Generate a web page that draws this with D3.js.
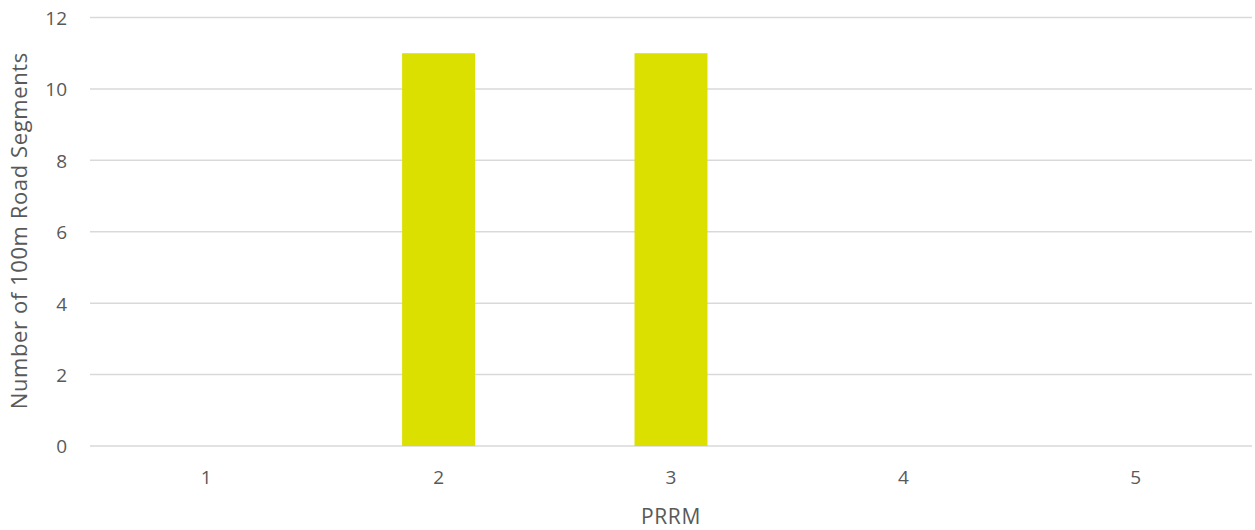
<!DOCTYPE html>
<html>
<head>
<meta charset="utf-8">
<script src="https://cdn.jsdelivr.net/npm/d3@7"></script>
<style>
  html, body { margin: 0; padding: 0; background: #fff; }
  svg text { font-family: "Open Sans", "Noto Sans", sans-serif; fill: #595959; }
</style>
</head>
<body>
<svg id="chart" width="1255" height="530"></svg>
<script>
// PRRM classes and the count of 100 m road segments in each
const categories = ["1", "2", "3", "4", "5"];
const counts = [0, 11, 11, 0, 0];
const yTicks = [0, 2, 4, 6, 8, 10, 12];
const xTitle = "PRRM";
const yTitle = "Number of 100m Road Segments";

const svg = d3.select("#chart");
const margin = { left: 90, right: 3, top: 17.5, bottom: 84 };
const W = 1255, H = 530;

const x = d3.scaleBand()
  .domain(categories)
  .range([margin.left, W - margin.right])
  .paddingInner(0.686)
  .paddingOuter(0.343);

const y = d3.scaleLinear()
  .domain([0, 12])
  .range([H - margin.bottom, margin.top]);

// horizontal gridlines
svg.append("g")
  .selectAll("line")
  .data(yTicks)
  .join("line")
  .attr("x1", margin.left)
  .attr("x2", W - margin.right)
  .attr("y1", d => y(d))
  .attr("y2", d => y(d))
  .attr("stroke", "#d9d9d9")
  .attr("stroke-width", 1.5);

// bars
svg.append("g")
  .selectAll("rect")
  .data(categories.map((c, i) => ({ c, v: counts[i] })))
  .join("rect")
  .attr("x", d => x(d.c))
  .attr("width", x.bandwidth())
  .attr("y", d => y(d.v))
  .attr("height", d => y(0) - y(d.v))
  .attr("fill", "#dbe000");

// y axis labels
const yAxis = svg.append("g")
  .attr("transform", `translate(${margin.left - 23},0)`)
  .call(d3.axisLeft(y).tickValues(yTicks).tickSize(0).tickPadding(0));
yAxis.select(".domain").remove();
yAxis.selectAll("text")
  .attr("font-size", 19)
  .attr("dy", "0.36em")
  .style("font-family", "'Open Sans', sans-serif")
  .attr("fill", "#595959");

// x axis labels
const xAxis = svg.append("g")
  .attr("transform", `translate(0,${y(0)})`)
  .call(d3.axisBottom(x).tickSize(0).tickPadding(0));
xAxis.select(".domain").remove();
xAxis.selectAll("text")
  .attr("font-size", 19)
  .attr("y", 38)
  .attr("dy", 0)
  .style("font-family", "'Open Sans', sans-serif")
  .attr("fill", "#595959");

// axis titles
svg.append("text")
  .attr("x", (margin.left + W - margin.right) / 2)
  .attr("y", 524)
  .attr("text-anchor", "middle")
  .attr("font-size", 21)
  .attr("letter-spacing", 0.6)
  .text(xTitle);

svg.append("text")
  .attr("transform", `translate(27,${(y(0) + y(12)) / 2 - 1}) rotate(-90)`)
  .attr("text-anchor", "middle")
  .attr("font-size", 22)
  .attr("letter-spacing", 0.6)
  .text(yTitle);
</script>
</body>
</html>
